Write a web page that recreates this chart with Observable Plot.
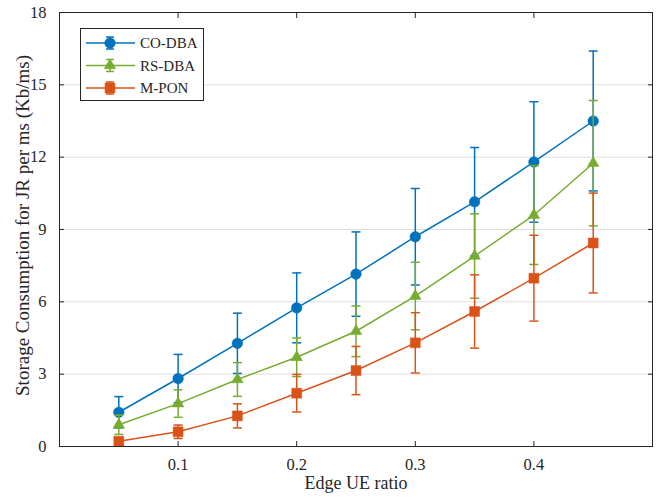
<!DOCTYPE html>
<html><head><meta charset="utf-8">
<script src="https://cdn.jsdelivr.net/npm/d3@7"></script>
<script src="https://cdn.jsdelivr.net/npm/@observablehq/plot@0.6"></script>
<style>
body{margin:0;background:#fff;}
#wrap{position:relative;width:660px;height:498px;font-family:"Liberation Serif","Times New Roman",serif;}
#legend{position:absolute;left:80px;top:28px;}
</style></head><body><div id="wrap"></div>
<script>
// ---- data ----
const xValues = [0.05, 0.1, 0.15, 0.2, 0.25, 0.3, 0.35, 0.4, 0.45];
const seriesNames = ["CO-DBA", "RS-DBA", "M-PON"];
const coDBA    = [1.42, 2.82, 4.28, 5.75, 7.15, 8.70, 10.15, 11.80, 13.50];
const coDBAErr = [0.65, 1.00, 1.25, 1.45, 1.75, 2.00, 2.25, 2.50, 2.90];
const rsDBA    = [0.90, 1.78, 2.78, 3.70, 4.78, 6.24, 7.90, 9.60, 11.75];
const rsDBAErr = [0.40, 0.57, 0.70, 0.80, 1.05, 1.40, 1.75, 2.05, 2.60];
const mPON     = [0.22, 0.61, 1.27, 2.21, 3.15, 4.30, 5.60, 6.98, 8.44];
const mPONErr  = [0.12, 0.28, 0.50, 0.78, 1.00, 1.25, 1.52, 1.78, 2.07];
const xTicks = [0.1, 0.2, 0.3, 0.4];
const xTickLabels = ["0.1", "0.2", "0.3", "0.4"];
const yTicks = [0, 3, 6, 9, 12, 15, 18];
const xLabel = "Edge UE ratio";
const yLabel = "Storage Consumption for JR per ms (Kb/ms)";

const colors = ["#0072BD", "#77AC30", "#D95319"];
const symbols = ["circle", "triangle", "square"];
const markerR = [5.3, 4.3, 5.6];

const allY = [coDBA, rsDBA, mPON];
const allE = [coDBAErr, rsDBAErr, mPONErr];
const table = seriesNames.map((s, i) => xValues.map((x, j) => ({
  series: s, x, y: allY[i][j], lo: allY[i][j] - allE[i][j], hi: allY[i][j] + allE[i][j]
})));

const capSymbol = {draw(ctx, size) { const w = Math.sqrt(size / Math.PI); ctx.moveTo(-w, 0); ctx.lineTo(w, 0); }};

const font = '"Liberation Serif","Times New Roman",serif';
const axisColor = "#262626";

const marks = [
  Plot.gridY(yTicks.filter(d => d > 0 && d < 18), {stroke: "#dedede", strokeOpacity: 1, strokeWidth: 1}),
];
table.forEach((rows, i) => {
  const c = colors[i];
  marks.push(
    Plot.ruleX(rows, {x: "x", y1: "lo", y2: "hi", stroke: c, strokeWidth: 1.5}),
    Plot.dot(rows, {x: "x", y: "lo", symbol: capSymbol, r: 4.5, stroke: c, strokeWidth: 1.5, fill: "none"}),
    Plot.dot(rows, {x: "x", y: "hi", symbol: capSymbol, r: 4.5, stroke: c, strokeWidth: 1.5, fill: "none"}),
    Plot.line(rows, {x: "x", y: "y", stroke: c, strokeWidth: 1.5}),
    Plot.dot(rows, {x: "x", y: "y", symbol: symbols[i], r: markerR[i], fill: c, stroke: c, strokeWidth: 0.5})
  );
});
const fmtX = d => xTickLabels[xTicks.indexOf(d)];
marks.push(
  Plot.frame({stroke: axisColor, strokeWidth: 1}),
  Plot.axisX({ticks: xTicks, anchor: "bottom", tickSize: -5, tickFormat: () => "", label: null, stroke: axisColor}),
  Plot.axisX({ticks: xTicks, anchor: "top", tickSize: -5, tickFormat: () => "", label: null, stroke: axisColor}),
  Plot.axisY({ticks: yTicks, anchor: "left", tickSize: -5, tickFormat: () => "", label: null, stroke: axisColor}),
  Plot.axisY({ticks: yTicks, anchor: "right", tickSize: -5, tickFormat: () => "", label: null, stroke: axisColor}),
  Plot.axisX({ticks: xTicks, anchor: "bottom", tickSize: 0, tickPadding: 12, tickFormat: fmtX, label: null, fill: axisColor, fontSize: 16.5}),
  Plot.axisY({ticks: yTicks, anchor: "left", tickSize: 0, tickPadding: 13, label: null, fill: axisColor, fontSize: 16.5}),
  Plot.text([xLabel], {frameAnchor: "bottom", dy: 37, text: d => d, fontSize: 18, fill: axisColor, textAnchor: "middle", lineAnchor: "middle"}),
  Plot.text([yLabel], {frameAnchor: "left", dx: -37, dy: -4, rotate: -90, text: d => d, fontSize: 19, fill: axisColor, textAnchor: "middle", lineAnchor: "middle"})
);

const chart = Plot.plot({
  width: 660, height: 498,
  marginLeft: 59, marginRight: 8, marginTop: 12, marginBottom: 52,
  style: {fontFamily: font, fontSize: "16px", background: "#fff", color: axisColor},
  x: {domain: [0, 0.5], axis: null},
  y: {domain: [0, 18], axis: null},
  marks
});
const wrap = document.getElementById("wrap");
wrap.appendChild(chart);

// ---- legend ----
const ns = "http://www.w3.org/2000/svg";
const lg = document.createElementNS(ns, "svg");
lg.setAttribute("id", "legend");
lg.setAttribute("width", 124);
lg.setAttribute("height", 73);
const sel = d3.select(lg);
sel.append("rect").attr("x", 0.5).attr("y", 0.5).attr("width", 123).attr("height", 72)
  .attr("fill", "#fff").attr("stroke", axisColor).attr("stroke-width", 1);
seriesNames.forEach((s, i) => {
  const cy = 15 + i * 22.5;
  const g = sel.append("g").attr("stroke", colors[i]).attr("stroke-width", 1.5);
  g.append("line").attr("x1", 6).attr("x2", 55).attr("y1", cy).attr("y2", cy);
  g.append("line").attr("x1", 30).attr("x2", 30).attr("y1", cy - 6).attr("y2", cy + 6);
  g.append("line").attr("x1", 26).attr("x2", 34).attr("y1", cy - 6).attr("y2", cy - 6);
  g.append("line").attr("x1", 26).attr("x2", 34).attr("y1", cy + 6).attr("y2", cy + 6);
  const symType = [d3.symbolCircle, d3.symbolTriangle, d3.symbolSquare][i];
  sel.append("path").attr("transform", `translate(30,${cy})`)
    .attr("d", d3.symbol(symType, Math.PI * markerR[i] * markerR[i])())
    .attr("fill", colors[i]).attr("stroke", colors[i]).attr("stroke-width", 0.5);
  sel.append("text").attr("x", 60).attr("y", cy).attr("dy", "0.35em")
    .attr("font-family", font).attr("font-size", 15).attr("fill", axisColor).text(s);
});
wrap.appendChild(lg);
</script></body></html>
